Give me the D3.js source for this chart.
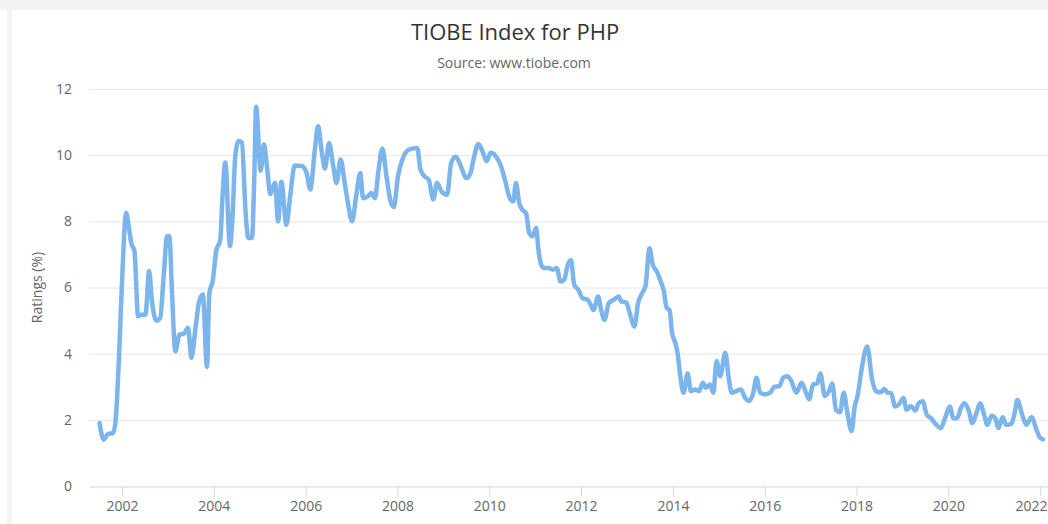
<!DOCTYPE html>
<html>
<head>
<meta charset="utf-8">
<script src="https://cdn.jsdelivr.net/npm/d3@7"></script>
<style>
  body { margin: 0; background: #fff; }
  text { font-family: "Open Sans", "DejaVu Sans", sans-serif; }
</style>
</head>
<body>
<div id="chart"></div>
<script>
// TIOBE rating for PHP (decimal year, %)
var years = [
  2001.51, 2001.60, 2001.69, 2001.80, 2001.85, 2001.93, 2002.00, 2002.09, 2002.15, 2002.20,
  2002.27, 2002.35, 2002.42, 2002.51, 2002.59, 2002.65, 2002.75, 2002.83, 2002.91, 2002.98,
  2003.03, 2003.09, 2003.16, 2003.25, 2003.34, 2003.44, 2003.51, 2003.60, 2003.68, 2003.76,
  2003.85, 2003.90, 2003.98, 2004.05, 2004.14, 2004.19, 2004.25, 2004.35, 2004.40, 2004.47,
  2004.54, 2004.61, 2004.69, 2004.75, 2004.83, 2004.88, 2004.92, 2005.02, 2005.09, 2005.16,
  2005.23, 2005.33, 2005.40, 2005.47, 2005.58, 2005.67, 2005.76, 2005.91, 2006.02, 2006.10,
  2006.20, 2006.27, 2006.35, 2006.42, 2006.51, 2006.60, 2006.67, 2006.76, 2006.85, 2006.92,
  2007.01, 2007.10, 2007.19, 2007.25, 2007.36, 2007.43, 2007.51, 2007.58, 2007.67, 2007.76,
  2007.85, 2007.92, 2008.01, 2008.12, 2008.25, 2008.43, 2008.50, 2008.59, 2008.68, 2008.78,
  2008.86, 2008.96, 2009.08, 2009.17, 2009.27, 2009.35, 2009.50, 2009.59, 2009.66, 2009.76,
  2009.85, 2009.94, 2010.03, 2010.14, 2010.24, 2010.34, 2010.43, 2010.52, 2010.58, 2010.65,
  2010.72, 2010.80, 2010.87, 2010.94, 2011.02, 2011.07, 2011.13, 2011.20, 2011.29, 2011.38,
  2011.47, 2011.55, 2011.63, 2011.71, 2011.78, 2011.85, 2011.94, 2012.03, 2012.14, 2012.20,
  2012.27, 2012.37, 2012.44, 2012.51, 2012.60, 2012.71, 2012.82, 2012.87, 2012.98, 2013.07,
  2013.16, 2013.24, 2013.33, 2013.40, 2013.49, 2013.56, 2013.65, 2013.72, 2013.80, 2013.86,
  2013.93, 2013.98, 2014.05, 2014.10, 2014.16, 2014.23, 2014.32, 2014.39, 2014.48, 2014.57,
  2014.65, 2014.72, 2014.81, 2014.88, 2014.95, 2015.03, 2015.14, 2015.21, 2015.28, 2015.38,
  2015.48, 2015.57, 2015.66, 2015.75, 2015.82, 2015.90, 2016.01, 2016.12, 2016.21, 2016.32,
  2016.40, 2016.49, 2016.58, 2016.69, 2016.80, 2016.90, 2016.97, 2017.05, 2017.14, 2017.21,
  2017.31, 2017.40, 2017.47, 2017.55, 2017.64, 2017.72, 2017.80, 2017.89, 2017.96, 2018.02,
  2018.12, 2018.23, 2018.34, 2018.43, 2018.53, 2018.60, 2018.68, 2018.75, 2018.84, 2018.93,
  2019.02, 2019.09, 2019.18, 2019.28, 2019.35, 2019.44, 2019.53, 2019.62, 2019.72, 2019.83,
  2019.94, 2020.03, 2020.11, 2020.19, 2020.28, 2020.35, 2020.45, 2020.52, 2020.61, 2020.69,
  2020.78, 2020.85, 2020.94, 2021.02, 2021.09, 2021.18, 2021.26, 2021.37, 2021.45, 2021.50,
  2021.62, 2021.70, 2021.81, 2021.92, 2021.99, 2022.06
];
var ratings = [
  1.90, 1.40, 1.57, 1.60, 1.85, 3.77, 6.20, 8.26, 7.80, 7.35,
  7.10, 5.13, 5.18, 5.18, 6.50, 5.60, 5.00, 5.08, 6.40, 7.55,
  7.55, 5.80, 4.07, 4.58, 4.60, 4.78, 3.87, 4.78, 5.58, 5.79,
  3.60, 5.80, 6.24, 7.10, 7.45, 8.80, 9.78, 7.25, 8.00, 10.03,
  10.43, 10.38, 8.30, 7.50, 7.50, 9.30, 11.46, 9.53, 10.33, 9.60,
  8.82, 9.17, 8.00, 9.20, 7.90, 8.86, 9.69, 9.67, 9.46, 8.96,
  10.17, 10.88, 10.10, 9.60, 10.37, 9.67, 9.16, 9.87, 9.16, 8.56,
  8.00, 8.76, 9.46, 8.70, 8.76, 8.86, 8.70, 9.46, 10.20, 9.36,
  8.60, 8.43, 9.36, 9.92, 10.17, 10.22, 9.57, 9.36, 9.26, 8.66,
  9.16, 8.90, 8.80, 9.77, 9.95, 9.77, 9.31, 9.46, 9.90, 10.34,
  10.12, 9.82, 10.07, 9.97, 9.72, 9.26, 8.76, 8.60, 9.16, 8.56,
  8.35, 8.25, 7.65, 7.55, 7.80, 7.14, 6.69, 6.59, 6.59, 6.54,
  6.59, 6.18, 6.23, 6.69, 6.82, 6.08, 5.93, 5.68, 5.63, 5.50,
  5.32, 5.73, 5.30, 5.02, 5.52, 5.63, 5.73, 5.58, 5.55, 5.17,
  4.82, 5.52, 5.83, 6.03, 7.19, 6.69, 6.48, 6.23, 5.90, 5.40,
  5.30, 4.64, 4.33, 4.03, 3.32, 2.82, 3.40, 2.87, 2.92, 2.87,
  3.12, 2.97, 3.07, 2.82, 3.78, 3.32, 4.03, 3.32, 2.82, 2.87,
  2.92, 2.67, 2.57, 2.82, 3.27, 2.82, 2.77, 2.82, 3.00, 3.02,
  3.27, 3.32, 3.17, 2.82, 3.12, 2.82, 2.62, 3.07, 3.10, 3.40,
  2.72, 2.87, 3.10, 2.31, 2.23, 2.82, 2.21, 1.66, 2.41, 2.71,
  3.62, 4.22, 3.21, 2.86, 2.83, 2.93, 2.82, 2.81, 2.40, 2.48,
  2.66, 2.30, 2.42, 2.28, 2.50, 2.56, 2.15, 2.05, 1.88, 1.75,
  2.10, 2.40, 2.05, 2.05, 2.38, 2.50, 2.25, 1.90, 2.20, 2.50,
  2.15, 1.85, 2.12, 2.05, 1.75, 2.08, 1.85, 1.88, 2.25, 2.60,
  2.10, 1.85, 2.08, 1.70, 1.47, 1.41
];
var xTicks = [2002, 2004, 2006, 2008, 2010, 2012, 2014, 2016, 2018, 2020, 2022];
var yTicks = [0, 2, 4, 6, 8, 10, 12];
var titleText = 'TIOBE Index for PHP';
var subtitleText = 'Source: www.tiobe.com';
var yTitle = 'Ratings (%)';

var width = 1048,
    height = 524,
    plotLeft = 89,
    plotRight = 1048,
    plotTop = 89,
    plotBottom = 486
;

var svg = d3.select('#chart')
  .append('svg')
    .attr('width', width)
    .attr('height', height);

// page frame around the chart box
svg.append('rect')
  .attr('x', 0).attr('y', 0)
  .attr('width', width).attr('height', 10)
  .attr('fill', '#f3f3f3');
svg.append('rect')
  .attr('x', 7).attr('y', 10)
  .attr('width', 5).attr('height', height - 10)
  .attr('fill', '#f3f3f3');

var x = d3.scaleLinear()
  .domain([2001.28, 2022.17])
  .range([plotLeft, plotRight]);
var y = d3.scaleLinear()
  .domain([0, 12])
  .range([plotBottom, plotTop]);

// grid
svg.append('g')
  .selectAll('line')
  .data(yTicks.filter(function (d) { return d > 0; }))
  .enter().append('line')
    .attr('x1', plotLeft).attr('x2', plotRight)
    .attr('y1', function (d) { return y(d) + 0.5; })
    .attr('y2', function (d) { return y(d) + 0.5; })
    .attr('stroke', '#e6e6e6')
    .attr('stroke-width', 1);

// y axis labels
var yAxis = svg.append('g')
  .attr('transform', 'translate(' + (plotLeft - 17) + ',0)')
  .call(d3.axisLeft(y).tickValues(yTicks).tickSize(0).tickPadding(0));
yAxis.select('.domain').remove();
yAxis.selectAll('text')
  .attr('fill', '#666')
  .style('font-size', '14px');

// x axis
var xAxis = svg.append('g')
  .attr('transform', 'translate(0,' + (plotBottom + 0.5) + ')')
  .call(d3.axisBottom(x).tickValues(xTicks).tickFormat(d3.format('d'))
    .tickSize(10).tickSizeOuter(0).tickPadding(5));
xAxis.select('.domain').attr('stroke', '#ccd6eb');
xAxis.selectAll('.tick line').attr('stroke', '#ccd6eb');
xAxis.selectAll('text')
  .attr('fill', '#666')
  .style('font-size', '14px');
// keep the last label inside the chart, as the reference does
xAxis.selectAll('.tick')
  .filter(function (d) { return x(d) + 16 > width; })
  .select('text')
    .attr('text-anchor', 'end')
    .attr('x', function (d) { return width - 1 - x(d); });

// axis title
svg.append('text')
  .attr('transform', 'translate(42,' + ((plotTop + plotBottom) / 2) + ') rotate(-90)')
  .attr('text-anchor', 'middle')
  .attr('fill', '#666')
  .style('font-size', '14px')
  .text(yTitle);

// titles
svg.append('text')
  .attr('x', 515).attr('y', 40)
  .attr('text-anchor', 'middle')
  .attr('fill', '#333')
  .style('font-size', '22px')
  .text(titleText);
svg.append('text')
  .attr('x', 514).attr('y', 68)
  .attr('text-anchor', 'middle')
  .attr('fill', '#666')
  .style('font-size', '14px')
  .text(subtitleText);

// the series
var points = years.map(function (yr, i) { return [yr, ratings[i]]; });
var line = d3.line()
  .x(function (d) { return x(d[0]); })
  .y(function (d) { return y(d[1]); })
  .curve(d3.curveMonotoneX);

svg.append('path')
  .datum(points)
  .attr('d', line)
  .attr('fill', 'none')
  .attr('stroke', '#7cb5ec')
  .attr('stroke-width', 4.5)
  .attr('stroke-linejoin', 'round')
  .attr('stroke-linecap', 'round');
</script>
</body>
</html>
